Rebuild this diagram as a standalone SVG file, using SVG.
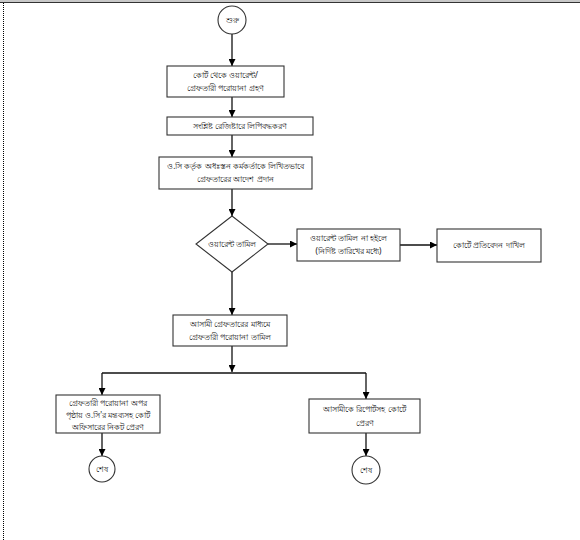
<svg xmlns="http://www.w3.org/2000/svg" width="580" height="540" viewBox="0 0 580 540">
<defs>
<marker id="ah" viewBox="0 0 10 10" refX="10" refY="5" markerWidth="7" markerHeight="7" markerUnits="userSpaceOnUse" orient="auto">
<path d="M0,0 L10,5 L0,10 z" fill="#000"/>
</marker>
<style>
.box{fill:#fff;stroke:#333;stroke-width:1.1}
.t{font-family:"Noto Sans","DejaVu Sans",sans-serif;font-size:8px;fill:#111;text-anchor:middle}
.c{fill:none;stroke:#111;stroke-width:1.3}
</style>
</defs>
<rect x="0" y="0" width="580" height="540" fill="#fff"/>
<rect x="0" y="0" width="580" height="2" fill="#c8c8c8"/>
<line x1="0" y1="2.5" x2="580" y2="2.5" stroke="#333" stroke-width="1"/>
<line x1="3.5" y1="3" x2="3.5" y2="540" stroke="#000" stroke-width="1" stroke-dasharray="1,1"/>

<g id="connectors">
<line class="c" x1="232" y1="34" x2="232" y2="66" marker-end="url(#ah)"/>
<line class="c" x1="232" y1="97" x2="232" y2="117" marker-end="url(#ah)"/>
<line class="c" x1="232" y1="135" x2="232" y2="157" marker-end="url(#ah)"/>
<line class="c" x1="232" y1="189" x2="232" y2="216" marker-end="url(#ah)"/>
<line class="c" x1="268" y1="244" x2="297" y2="244" marker-end="url(#ah)"/>
<line class="c" x1="400" y1="245" x2="437" y2="245" marker-end="url(#ah)"/>
<line class="c" x1="232" y1="272" x2="232" y2="315" marker-end="url(#ah)"/>
<line class="c" x1="232" y1="346" x2="232" y2="372" marker-end="url(#ah)"/>
<line class="c" x1="102" y1="373" x2="366" y2="373"/>
<line class="c" x1="102" y1="373" x2="102" y2="395" marker-end="url(#ah)"/>
<line class="c" x1="366" y1="373" x2="366" y2="399" marker-end="url(#ah)"/>
<line class="c" x1="102" y1="433" x2="102" y2="456" marker-end="url(#ah)"/>
<line class="c" x1="366" y1="433" x2="366" y2="456" marker-end="url(#ah)"/>
</g>

<g id="start">
<circle cx="232" cy="20" r="14" class="box"/>
<text class="t" x="232" y="23">শুরু</text>
</g>
<g id="n1">
<rect class="box" x="167" y="66" width="117" height="31"/>
<text class="t" x="225.5" y="78">কোর্ট থেকে ওয়ারেন্ট/</text>
<text class="t" x="225.5" y="91">গ্রেফতারী পরোয়ানা গ্রহণ</text>
</g>
<g id="n2">
<rect class="box" x="167" y="117" width="146" height="18"/>
<text class="t" x="240" y="129">সংশ্লিষ্ট রেজিষ্টারে লিপিবদ্ধকরণ</text>
</g>
<g id="n3">
<rect class="box" x="159" y="157" width="153" height="32"/>
<text class="t" x="235.5" y="169" font-size="7.6">ও.সি কর্তৃক অধঃস্তন কর্মকর্তাকে লিখিতভাবে</text>
<text class="t" x="235.5" y="182">গ্রেফতারের আদেশ প্রদান</text>
</g>
<g id="d1">
<polygon class="box" points="232,216 268,244 232,272 196,244"/>
<text class="t" x="232" y="247">ওয়ারেন্ট তামিল</text>
</g>
<g id="n4">
<rect class="box" x="297" y="229" width="103" height="32"/>
<text class="t" x="348.5" y="241">ওয়ারেন্ট তামিল না হইলে</text>
<text class="t" x="348.5" y="254">(নির্দিষ্ট তারিখের মধ্যে)</text>
</g>
<g id="n5">
<rect class="box" x="437" y="229" width="104" height="33"/>
<text class="t" x="489" y="248">কোর্টে প্রতিবেদন দাখিল</text>
</g>
<g id="n6">
<rect class="box" x="173" y="315" width="114" height="31"/>
<text class="t" x="230" y="327">আসামী গ্রেফতারের মাধ্যমে</text>
<text class="t" x="230" y="340">গ্রেফতারী পরোয়ানা তামিল</text>
</g>
<g id="n7">
<rect class="box" x="56" y="395" width="104" height="38"/>
<text class="t" x="108" y="406">গ্রেফতারী পরোয়ানা অপর</text>
<text class="t" x="108" y="418">পৃষ্ঠায় ও.সি'র মন্তব্যসহ কোর্ট</text>
<text class="t" x="108" y="430">অফিসারের নিকট প্রেরণ</text>
</g>
<g id="n8">
<rect class="box" x="309" y="399" width="111" height="34"/>
<text class="t" x="364.5" y="412">আসামীকে রিপোর্টসহ কোর্টে</text>
<text class="t" x="364.5" y="426">প্রেরণ</text>
</g>
<g id="end1">
<circle class="box" cx="102" cy="469" r="13"/>
<text class="t" x="102" y="472">শেষ</text>
</g>
<g id="end2">
<circle class="box" cx="366" cy="470" r="14"/>
<text class="t" x="366" y="473">শেষ</text>
</g>
</svg>
